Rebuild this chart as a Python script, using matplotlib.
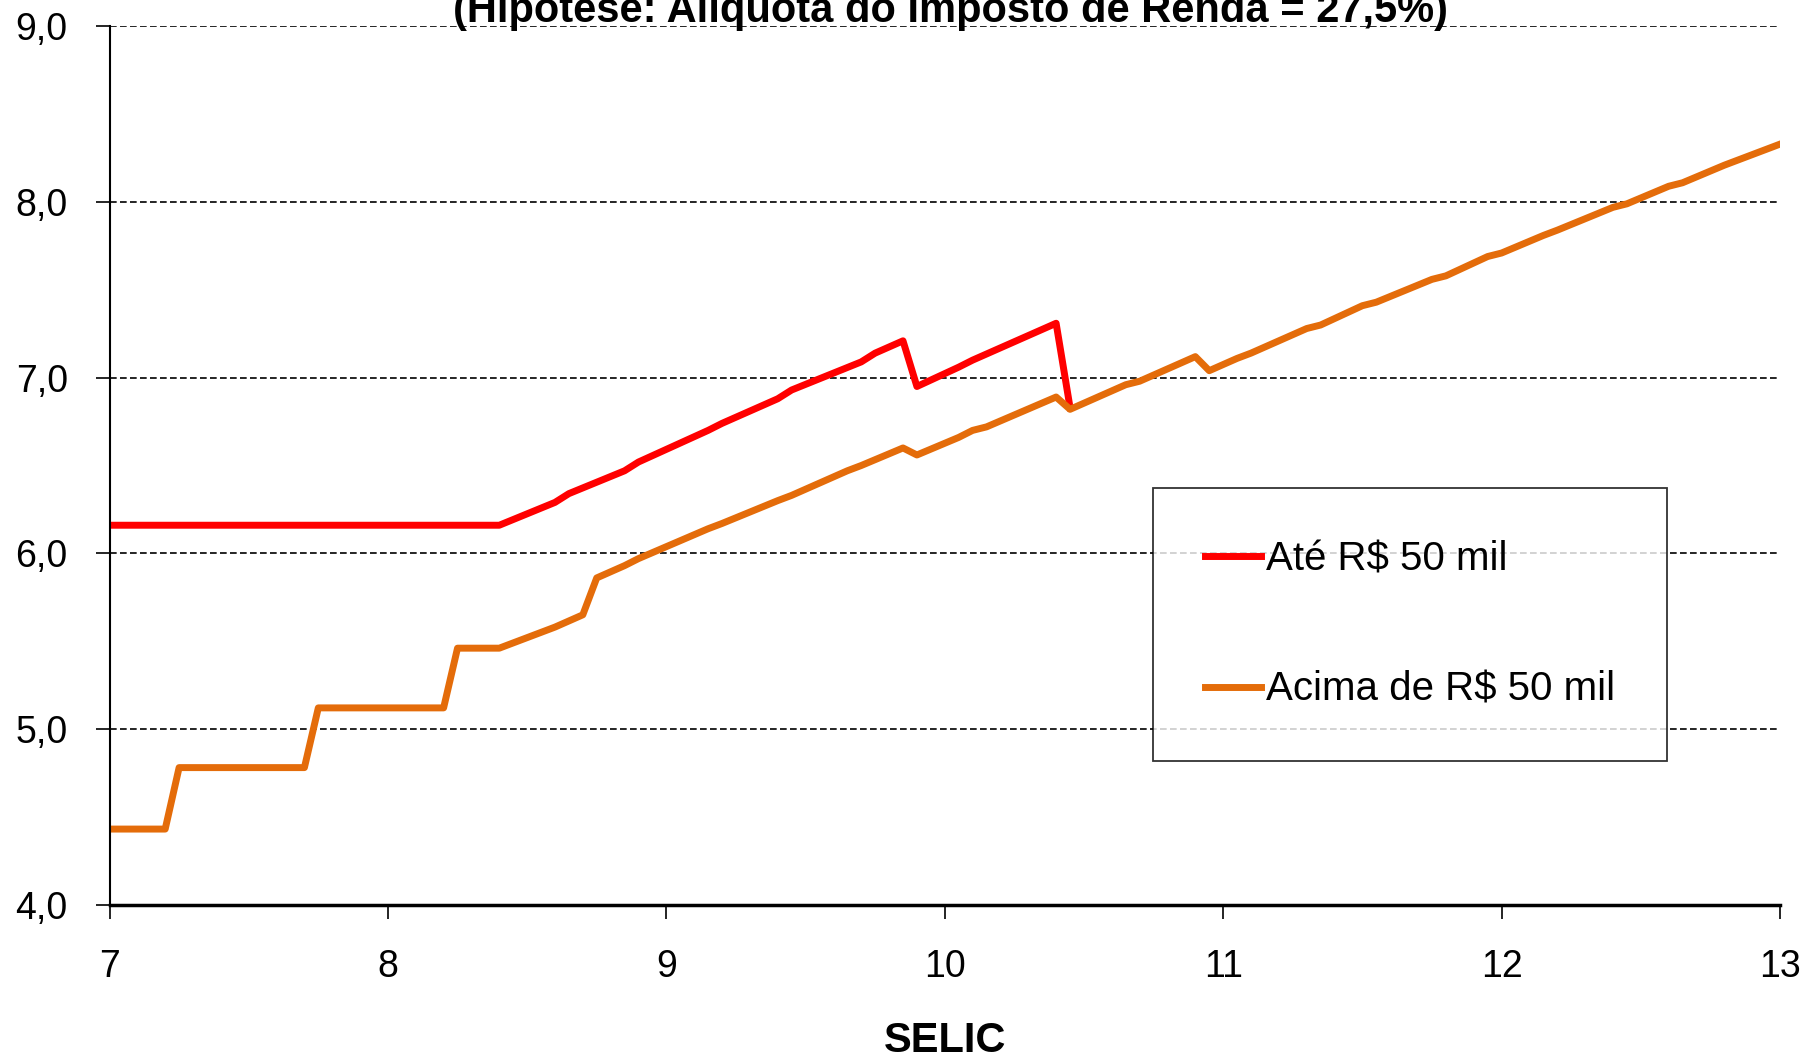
import matplotlib.pyplot as plt
from matplotlib.ticker import FuncFormatter

# SELIC (x) and net yield values
selic_ate = [7.00, 8.40, 8.60, 8.65, 8.85, 8.90, 9.15, 9.20, 9.40, 9.45,
             9.70, 9.75, 9.85, 9.90, 10.05, 10.10, 10.40, 10.45]
ate_50 = [6.16, 6.16, 6.29, 6.34, 6.47, 6.52, 6.70, 6.74, 6.88, 6.93,
          7.09, 7.14, 7.21, 6.95, 7.06, 7.10, 7.31, 6.83]

selic_acima = [7.00, 7.20, 7.25, 7.70, 7.75, 8.20, 8.25, 8.40, 8.45, 8.60,
               8.70, 8.75, 8.85, 8.90, 9.15, 9.20, 9.40, 9.45, 9.65, 9.70,
               9.85, 9.90, 10.05, 10.10, 10.15, 10.40, 10.45, 10.65, 10.70, 10.90,
               10.95, 11.05, 11.10, 11.30, 11.35, 11.50, 11.55, 11.75, 11.80, 11.95,
               12.00, 12.15, 12.20, 12.40, 12.45, 12.60, 12.65, 12.80, 12.85, 13.00]
acima_50 = [4.43, 4.43, 4.78, 4.78, 5.12, 5.12, 5.46, 5.46, 5.49, 5.58,
            5.65, 5.86, 5.93, 5.97, 6.14, 6.17, 6.30, 6.33, 6.47, 6.50,
            6.60, 6.56, 6.66, 6.70, 6.72, 6.89, 6.82, 6.96, 6.98, 7.12,
            7.04, 7.11, 7.14, 7.28, 7.30, 7.41, 7.43, 7.56, 7.58, 7.69,
            7.71, 7.81, 7.84, 7.97, 7.99, 8.09, 8.11, 8.21, 8.24, 8.33]

labels = ['Até R$ 50 mil', 'Acima de R$ 50 mil']
title = '(Hipótese: Alíquota do Imposto de Renda = 27,5%)'

plt.rcParams['font.family'] = ['Liberation Sans', 'DejaVu Sans']

fig = plt.figure(figsize=(18.04, 10.58), dpi=100)
ax = fig.add_axes([0.0607, 0.145, 0.926, 0.830])

ax.plot(selic_ate, ate_50, color='#FF0000', lw=5, label=labels[0])
ax.plot(selic_acima, acima_50, color='#E46C0A', lw=5, label=labels[1])

ax.set_xlim(7, 13)
ax.set_ylim(4, 9)
ax.set_xticks(range(7, 14))
ax.set_yticks([4, 5, 6, 7, 8, 9])
ax.yaxis.set_major_formatter(FuncFormatter(lambda v, p: f'{v:.1f}'.replace('.', ',')))

for y in [5, 6, 7, 8, 9]:
    ax.axhline(y, color='black', lw=1.2, ls=(0, (4, 2)), zorder=0)

for s in ['top', 'right']:
    ax.spines[s].set_visible(False)
ax.spines['left'].set_linewidth(1.5)
ax.spines['bottom'].set_linewidth(2.5)

ax.tick_params(axis='both', direction='out', length=10, width=1.2, labelsize=27)
ax.tick_params(axis='x', pad=22)
ax.tick_params(axis='y', pad=20)

ax.set_xlabel('SELIC', fontsize=30, fontweight='bold', labelpad=26)

fig.text(0.527, 1 - 22 / 1058, title, ha='center', va='baseline',
         fontsize=30, fontweight='bold')

leg = ax.legend(loc='upper left', bbox_to_anchor=(0.6245, 0.4745),
                fontsize=29, frameon=True, fancybox=False, borderpad=1.3,
                labelspacing=2.3, handlelength=1.4, handletextpad=0.1,
                borderaxespad=0)
leg.get_frame().set_edgecolor('black')
leg.get_frame().set_linewidth(1.3)

fig.savefig('out.png', dpi=100)
